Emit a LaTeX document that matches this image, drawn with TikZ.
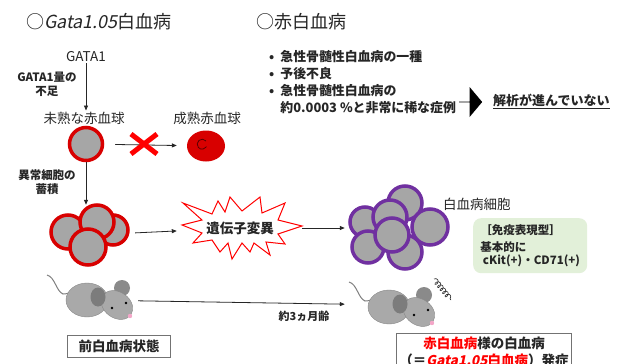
\documentclass[tikz,border=0pt]{standalone}
\usepackage{fontspec}
\setmainfont{Noto Sans CJK JP}
\newfontfamily\slantfam{Noto Sans CJK JP}[FakeSlant=0.2]
\newcommand{\gatasl}{{\slantfam Gata1.05}}
\usetikzlibrary{arrows.meta,shapes.geometric,shapes.arrows,decorations.pathmorphing}

\definecolor{txt}{HTML}{262626}
\definecolor{cellred}{HTML}{D80000}
\definecolor{cellgray}{HTML}{A6A6A6}
\definecolor{leukpurple}{HTML}{7030A0}
\definecolor{boxgreen}{HTML}{E2F0D9}
\definecolor{mousegray}{HTML}{A9A9A9}
\definecolor{eargray}{HTML}{8A8A8A}
\definecolor{nosepink}{HTML}{F4A6C8}

\tikzset{
  big/.style={font=\fontsize{18}{21}\selectfont, text=txt, inner sep=0pt},
  lbl/.style={font=\fontsize{13.5}{16}\selectfont, text=txt, inner sep=1pt},
  lblb/.style={font=\fontsize{13.5}{16}\selectfont\bfseries, text=txt, inner sep=1pt},
  small/.style={font=\fontsize{11.5}{14}\selectfont\bfseries, text=txt, align=center, inner sep=1pt},
  arr/.style={-{Triangle[length=5pt,width=4pt]}, line width=0.8pt, draw=txt},
  redcell/.style={draw=cellred, line width=3.5pt, fill=cellgray},
  purplecell/.style={draw=leukpurple, line width=3.5pt, fill=cellgray},
  framebox/.style={draw=black!55, line width=0.8pt, lblb},
  group/.style={minimum width=#1, minimum height=60pt, inner sep=0pt},
  mouse/.pic={
    % tail, body, ears and head
    \draw[mousegray!75!black, line width=1pt] (-39,-24) .. controls (-31,-22) and (-30,-8) .. (-23,-5) .. controls (-20,-4) and (-17,-6) .. (-15,-8);
    \fill[eargray] (36,-11) circle[radius=8pt];
    \filldraw[fill=mousegray, draw=mousegray!80!black, line width=0.4pt] (1,1) ellipse[x radius=21pt, y radius=17pt];
    \filldraw[fill=mousegray, draw=mousegray!80!black, line width=0.4pt, rotate around={-35:(31,6)}] (31,6) ellipse[x radius=17pt, y radius=13pt];
    \fill[eargray!90!black] (12,-2) ellipse[x radius=7.5pt, y radius=9.5pt];
    % eyes and nose
    \fill[black] (26,9) circle[radius=1.3pt] (40,4) circle[radius=1.3pt];
    \fill[nosepink] (44,17) circle[radius=2.2pt];
  }
}

\begin{document}
\begin{tikzpicture}[x=1pt,y=-1pt]
  \useasboundingbox[fill=white] (0,0) rectangle (640,364);

  % Headings
  \node[big, anchor=west] (title1) at (26,22) {○\gatasl 白血病};
  \node[big, anchor=west] (title2) at (256,22) {○赤白血病};

  % Bullet list and conclusion
  \node[lblb, anchor=north west, font=\fontsize{12.9}{17}\selectfont\bfseries] (facts) at (268,48) {%
    \begin{tabular}{@{}l@{\hspace{6pt}}l@{}}
      •&急性骨髄性白血病の一種\\
      •&予後不良\\
      •&急性骨髄性白血病の\\
       &約0.0003 \%と非常に稀な症例
    \end{tabular}};
  \node[single arrow, fill=black, minimum width=30pt, minimum height=23pt, single arrow head extend=7pt,
        single arrow tip angle=100, inner sep=0pt] (bigarr) at (470.5,102) {};
  \node[lblb, anchor=west, font=\fontsize{13}{16}\selectfont\bfseries] (todo) at (492,101) {\underline{解析が進んでいない}};

  % Erythroid differentiation
  \node[lbl] (gata) at (86,57) {GATA1};
  \node[small] (lack) at (47,84) {GATA1量の\\不足};
  \node[lbl] (immlbl) at (84,118) {未熟な赤血球};
  \node[lbl] (matlbl) at (207,118) {成熟赤血球};
  \node[circle, redcell, minimum size=33pt, inner sep=0pt] (imm) at (86,144) {};
  \node[ellipse, fill=cellred, minimum width=38pt, minimum height=31pt, inner sep=0pt] (mature) at (206,146) {};
  \draw[black!70!red, line width=0.7pt] (206,141) arc[start angle=40, end angle=330, radius=5pt];
  \draw[arr] (gata) -- (gata |- immlbl.north);
  \draw[arr, shorten <=11pt, shorten >=10pt] (imm) -- (mature);
  \node (cross) at (144,144) {};
  \draw[red, line width=5pt] ([shift={(-13,-10)}]cross.center) -- ([shift={(13,10)}]cross.center)
                              ([shift={(-13,10)}]cross.center) -- ([shift={(13,-10)}]cross.center);

  % Accumulation of abnormal cells
  \node[small] (accum) at (47,182) {異常細胞の\\蓄積};
  \node[group=90pt] (redcl) at (90,235) {};
  \foreach \x/\y/\r in {68/232/17, 113/230/15, 97/222/17, 88/247/18}
    \draw[redcell] (\x,\y) circle[radius=\r pt];
  \draw[arr] (imm) -- (imm |- redcl.north);

  % Mutation burst
  \begin{scope}[shift={(240,228)}]
    \draw[red, line width=1pt, fill=white, line join=miter]
      (-58,-3) -- (-38,-8) -- (-57,-25) -- (-28,-14) -- (-22,-27) -- (-15,-16) -- (-10,-31) -- (2,-17)
      -- (20,-31) -- (22,-15) -- (45,-25) -- (38,-8) -- (62,-2) -- (38,6) -- (45,16) -- (26,14)
      -- (30,27) -- (14,15) -- (10,24) -- (2,15) -- (-8,31) -- (-12,15) -- (-20,24) -- (-28,12)
      -- (-47,15) -- (-38,5) -- cycle;
  \end{scope}
  \node[lblb, minimum width=124pt, minimum height=60pt] (burst) at (240,228) {遺伝子変異};

  % Leukemic cells
  \node[group=100pt] (purplecl) at (398,228) {};
  \foreach \x/\y/\r in {405/203/17, 365/222/15, 368/247/16, 405/252/17, 430/227/18, 390/217/17, 392/235/17}
    \draw[purplecell] (\x,\y) circle[radius=\r pt];
  \draw[arr, shorten >=1pt] (redcl) -- (burst);
  \draw[arr, shorten >=3pt] (burst) -- (purplecl);
  \node[lbl, anchor=west] (leuklbl) at (442,204) {白血病細胞};
  \node[fill=boxgreen, rounded corners=8pt, minimum width=114pt, minimum height=55pt, inner sep=5pt,
        align=left, anchor=north west, font=\fontsize{11.5}{13}\selectfont\bfseries, text=txt] (pheno) at (473,218)
    {［免疫表現型］\\[4pt]基本的に\\\ cKit(+)・CD71(+)};

  % Mice before and after
  \pic at (86,299) {mouse};
  \pic at (388,306) {mouse};
  \draw[txt, line width=0.6pt, decorate, decoration={coil, aspect=0.7, segment length=4pt, amplitude=2.5pt}] (434,279) -- (451,300);
  \node[minimum width=100pt, minimum height=45pt] (mouseL) at (88,300) {};
  \node[minimum width=100pt, minimum height=45pt] (mouseR) at (395,305) {};
  \draw[arr] (mouseL) -- (mouseR);
  \node[small, font=\fontsize{11}{13}\selectfont\bfseries] (age) at (304,316) {約3ヵ月齢};

  % Status boxes
  \node[framebox, minimum width=103pt, minimum height=22pt] (pre) at (119,346) {前白血病状態};
  \node[framebox, align=center, anchor=north, minimum width=165pt, inner sep=3pt, font=\fontsize{13.5}{17}\selectfont\bfseries] (onset) at (484,333)
    {{\color{red}赤白血病}様の白血病\\（＝{\color{red}\gatasl 白血病}）発症};
\end{tikzpicture}
\end{document}
